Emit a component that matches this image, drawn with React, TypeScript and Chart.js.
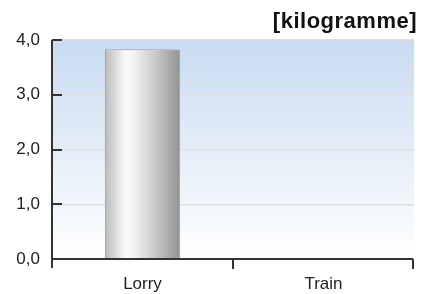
import React, { useEffect, useRef } from "react";
import { Chart, registerables } from "chart.js";

Chart.register(...registerables);

const categories = ["Lorry", "Train"];
const values: (number | null)[] = [3.83, null];
const yTicks = [0, 1, 2, 3, 4];
const unitTitle = "[kilogramme]";

const FONT = "'Liberation Sans', Arial, sans-serif";
const BAR_PCT = 0.415;

const barFill = (c: any) => {
  const chart = c.chart;
  const xs = chart.scales?.x;
  if (!chart.chartArea || !xs || c.dataIndex === undefined) return "#cccccc";
  const center = xs.getPixelForValue(c.dataIndex);
  const w = ((xs.right - xs.left) / categories.length) * BAR_PCT;
  const g = chart.ctx.createLinearGradient(center - w / 2, 0, center + w / 2, 0);
  g.addColorStop(0, "#bababa");
  g.addColorStop(0.28, "#fcfcfc");
  g.addColorStop(0.4, "#f0f0f0");
  g.addColorStop(0.65, "#cdcdcd");
  g.addColorStop(1, "#929292");
  return g;
};

const decorPlugin = {
  id: "decor",
  beforeDraw(chart: any) {
    const { ctx, chartArea: a } = chart;
    const g = ctx.createLinearGradient(0, a.top, 0, a.bottom);
    g.addColorStop(0, "#c8dbf0");
    g.addColorStop(1, "#ffffff");
    ctx.save();
    ctx.fillStyle = g;
    ctx.fillRect(a.left, a.top, a.right - a.left, a.bottom - a.top);
    ctx.restore();
  },
  afterDraw(chart: any) {
    const { ctx, chartArea: a, scales } = chart;
    const y = scales.y;
    ctx.save();
    ctx.strokeStyle = "#333333";
    ctx.lineWidth = 2;
    ctx.lineCap = "butt";
    // y axis
    ctx.beginPath();
    ctx.moveTo(a.left, a.top);
    ctx.lineTo(a.left, a.bottom + 9);
    ctx.stroke();
    yTicks.forEach((v) => {
      const py = Math.round(y.getPixelForValue(v));
      ctx.beginPath();
      ctx.moveTo(a.left, py);
      ctx.lineTo(a.left + 10, py);
      ctx.stroke();
    });
    // x axis
    ctx.beginPath();
    ctx.moveTo(a.left, a.bottom);
    ctx.lineTo(a.right - 1, a.bottom);
    ctx.stroke();
    const n = categories.length;
    for (let i = 1; i <= n; i++) {
      const px = Math.round(a.left + ((a.right - 1 - a.left) * i) / n);
      ctx.beginPath();
      ctx.moveTo(px, a.bottom);
      ctx.lineTo(px, a.bottom + 10);
      ctx.stroke();
    }
    // title
    ctx.fillStyle = "#111111";
    ctx.font = `bold 22px ${FONT}`;
    (ctx as any).letterSpacing = "0.5px";
    ctx.textAlign = "right";
    ctx.textBaseline = "alphabetic";
    ctx.fillText(unitTitle, 417, 28);
    ctx.restore();
  },
};

export default function App() {
  const ref = useRef<HTMLCanvasElement>(null);
  useEffect(() => {
    document.body.style.margin = "0";
    const chart = new Chart(ref.current!, {
      type: "bar",
      data: {
        labels: categories,
        datasets: [
          {
            data: values,
            backgroundColor: barFill,
            borderColor: "#a4a4a4",
            borderWidth: 1,
            barPercentage: BAR_PCT,
            categoryPercentage: 1,
          },
        ],
      },
      options: {
        animation: false,
        responsive: false,
        devicePixelRatio: 1,
        layout: { padding: { top: 40, right: 8, left: 0, bottom: 0 } },
        plugins: { legend: { display: false }, tooltip: { enabled: false }, title: { display: false } },
        scales: {
          x: {
            grid: { display: false, drawTicks: false },
            border: { display: false },
            ticks: { color: "#222", font: { family: FONT, size: 17 }, padding: 15 },
            afterFit: (s: any) => {
              s.height = 35;
            },
          },
          y: {
            min: 0,
            max: 4,
            grid: { color: "#dedede", lineWidth: 1.5, drawTicks: false },
            border: { display: false },
            ticks: {
              stepSize: 1,
              color: "#222",
              font: { family: FONT, size: 17 },
              padding: 12,
              callback: (v: any) => Number(v).toFixed(1).replace(".", ","),
            },
            afterFit: (s: any) => {
              s.width = 52;
            },
          },
        },
      },
      plugins: [decorPlugin],
    });
    return () => chart.destroy();
  }, []);
  return (
    <div style={{ width: 422, height: 294 }}>
      <canvas ref={ref} width={422} height={294} />
    </div>
  );
}
